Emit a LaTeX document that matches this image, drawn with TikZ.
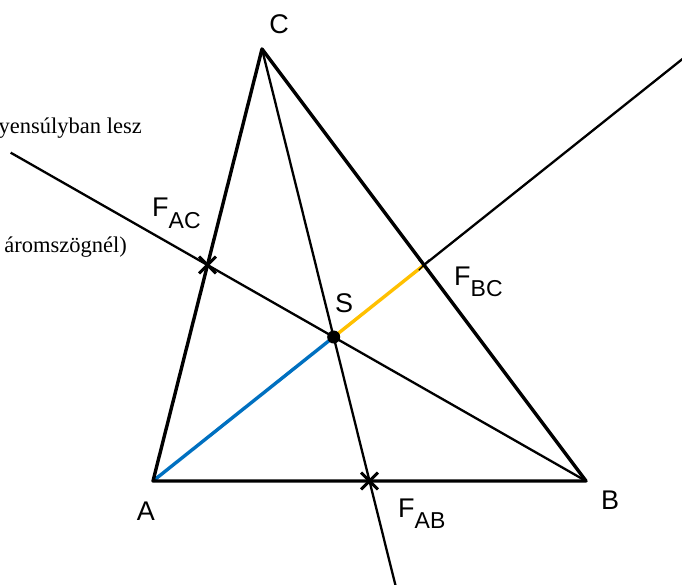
\documentclass[tikz,border=0pt]{standalone}
\usepackage{fontspec}
\setmainfont{Liberation Serif}
\setsansfont{Liberation Sans}
\usetikzlibrary{positioning, calc, shapes.misc}

\definecolor{medblue}{RGB}{0,112,192}
\definecolor{medorange}{RGB}{255,192,0}
\newcommand{\Fsub}[1]{F\raisebox{-0.42em}{\fontsize{23}{23}\selectfont #1}}

\begin{document}
\begin{tikzpicture}[
            x=1pt, y=-1pt,
            side/.style={line width=3.4pt, line join=round},
            median/.style={line width=2.3pt},
            midmark/.style={draw, cross out, line width=2.9pt, minimum size=14pt, inner sep=0pt},
            vertex/.style={font=\sffamily\fontsize{27}{27}\selectfont, inner sep=0pt},
            note/.style={font=\fontsize{22.5}{22.5}\selectfont, anchor=base east, inner sep=0pt}
        ]
        \useasboundingbox (0,0) rectangle (682,585);
        \clip (0,0) rectangle (682,585);

        % ======================================
        % Triangle and midpoints
        % ======================================
        \coordinate (A) at (153,481);
        \coordinate (B) at (586,481);
        \coordinate (C) at (262,49);
        \coordinate (FAB) at ($(A)!0.5!(B)$);
        \coordinate (FAC) at ($(A)!0.5!(C)$);
        \coordinate (FBC) at ($(B)!0.5!(C)$);
        \coordinate (S) at ($(A)!2/3!(FBC)$);
        \coordinate (endB) at ($(B)!1.52!(FAC)$);
        \coordinate (endC) at ($(C)!1.3!(FAB)$);
        \coordinate (endA) at ($(A)!2!(FBC)$);

        % ======================================
        % Medians
        % ======================================
        \draw[median] (B) -- (endB);
        \draw[median] (C) -- (endC);
        \draw[median] (FBC) -- (endA);
        \draw[medblue, line width=3.4pt] (A) -- (S);
        \draw[medorange, line width=3.4pt] (S) -- (FBC);

        % sides
        \draw[side] (A) -- (B) -- (C) -- cycle;

        % midpoint marks
        \foreach \m in {FAB, FAC}
        \node[midmark] (x-\m) at (\m) {};
        \node[midmark, minimum size=9pt, line width=1.4pt] (x-FBC) at (FBC) {};
        \fill (S) circle (6.5pt);

        % ======================================
        % Labels
        % ======================================
        \node[vertex] (lA) at (146,511) {A};
        \node[vertex] (lB) at (610,500) {B};
        \node[vertex] (lC) at (279,24) {C};
        \node[vertex] (lS) at (344,303) {S};
        \node[vertex, anchor=base west] (lFAB) at (398,517) {\Fsub{AB}};
        \node[vertex, anchor=base west] (lFAC) at (152,217) {\Fsub{AC}};
        \node[vertex, anchor=base west] (lFBC) at (454,285) {\Fsub{BC}};

        \node[note] (n1) at (142,134) {yensúlyban lesz};
        \node[note] (n2) at (127,252) {áromszögnél)};

    \end{tikzpicture}
\end{document}
